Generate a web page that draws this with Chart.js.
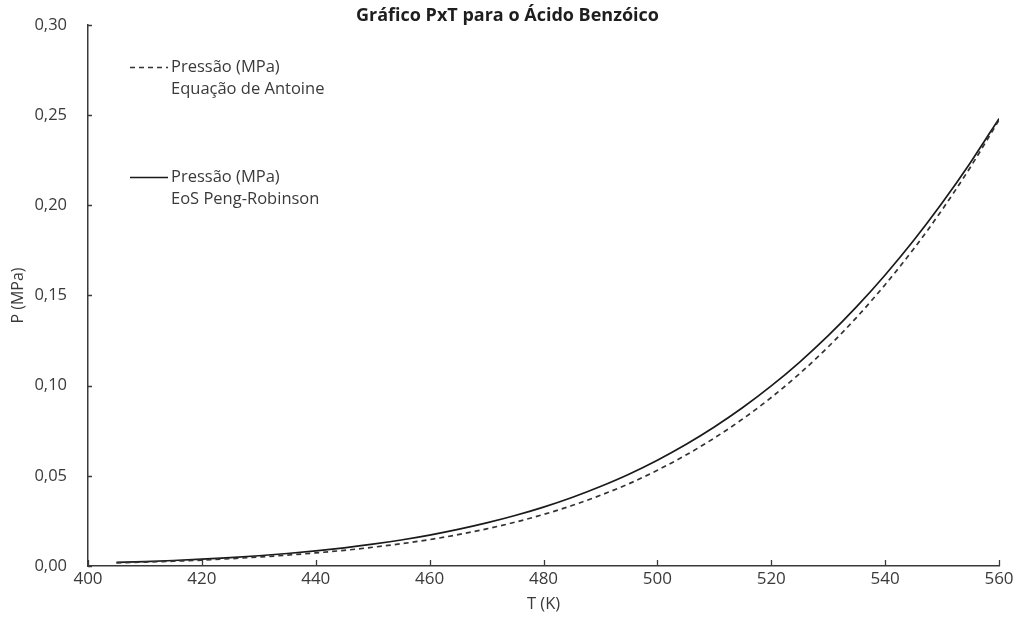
<!DOCTYPE html>
<html>
<head>
<meta charset="utf-8">
<script src="https://cdn.jsdelivr.net/npm/chart.js@4.4.1/dist/chart.umd.min.js"></script>
<style>
  html, body { margin: 0; padding: 0; background: #ffffff; }
  #wrap { width: 1015px; height: 629px; }
</style>
</head>
<body>
<div id="wrap"><canvas id="chart" width="1015" height="629"></canvas></div>
<script>
// Temperature grid (K)
const temperatures = [405, 410, 415, 420, 425, 430, 435, 440, 445, 450, 455, 460, 465, 470, 475, 480,
                      485, 490, 495, 500, 505, 510, 515, 520, 525, 530, 535, 540, 545, 550, 555, 560];

// Vapour pressure (MPa) from the Antoine equation
const pressureAntoine = [0.00177, 0.00216, 0.00266, 0.00328, 0.00405, 0.00499, 0.00602, 0.00728,
                         0.00869, 0.01039, 0.01233, 0.01464, 0.01738, 0.02058, 0.02429, 0.02858,
                         0.03352, 0.03920, 0.04562, 0.05310, 0.06149, 0.07099, 0.08157, 0.09345,
                         0.1067, 0.1215, 0.1379, 0.1560, 0.1758, 0.1975, 0.2213, 0.2473];

// Vapour pressure (MPa) from the Peng-Robinson equation of state
const pressurePengRobinson = [0.00197, 0.00246, 0.00306, 0.00378, 0.00465, 0.00569, 0.00692, 0.00838,
                              0.01009, 0.01209, 0.01443, 0.01714, 0.02028, 0.02388, 0.02799, 0.03268,
                              0.03802, 0.04410, 0.05092, 0.05870, 0.06739, 0.07709, 0.08787, 0.09985,
                              0.1131, 0.1277, 0.1438, 0.1614, 0.1805, 0.2013, 0.2238, 0.2481];

// Axis ticks
const xTickValues = [400, 420, 440, 460, 480, 500, 520, 540, 560];
const yTickLabels = ['0,00', '0,05', '0,10', '0,15', '0,20', '0,25', '0,30'];

// Legend text (two lines per series)
const labelAntoine = ['Pressão (MPa)', 'Equação de Antoine'];
const labelPengRobinson = ['Pressão (MPa)', 'EoS Peng-Robinson'];

const chartTitle = 'Gráfico PxT para o Ácido Benzóico';
const xTitle = 'T (K)';
const yTitle = 'P (MPa)';

const FONT = "'Open Sans', 'DejaVu Sans', sans-serif";
const TEXT_COLOR = '#3a3a3a';
const AXIS_COLOR = '#3a3a3a';

function toPoints(xs, ys) {
  return xs.map((x, i) => ({ x: x, y: ys[i] }));
}

// Title centred above the plot
const titlePlugin = {
  id: 'plotTitle',
  afterDraw(chart) {
    const ctx = chart.ctx;
    ctx.save();
    ctx.font = "bold 18px " + FONT;
    ctx.fillStyle = '#1e1e1e';
    ctx.textAlign = 'center';
    ctx.textBaseline = 'middle';
    ctx.fillText(chartTitle, chart.width / 2, 16);
    ctx.restore();
  }
};

// Short tick marks pointing into the plot area
const innerTicksPlugin = {
  id: 'innerTicks',
  afterDraw(chart) {
    const ctx = chart.ctx;
    const xs = chart.scales.x, ys = chart.scales.y;
    const area = chart.chartArea;
    ctx.save();
    ctx.strokeStyle = AXIS_COLOR;
    ctx.lineWidth = 1.3;
    ctx.beginPath();
    xTickValues.forEach(v => {
      const px = Math.round(xs.getPixelForValue(v)) + 0.5;
      ctx.moveTo(px, area.bottom);
      ctx.lineTo(px, area.bottom - 6);
    });
    ys.ticks.forEach(t => {
      const py = Math.round(ys.getPixelForValue(t.value)) + 0.5;
      ctx.moveTo(area.left, py);
      ctx.lineTo(area.left + 4, py);
    });
    ctx.stroke();
    ctx.restore();
  }
};

// Legend inside the plot, line sample followed by two text lines
const insideLegendPlugin = {
  id: 'insideLegend',
  afterDatasetsDraw(chart) {
    const ctx = chart.ctx;
    const rows = [67, 177];
    ctx.save();
    ctx.font = "16.5px " + FONT;
    ctx.fillStyle = TEXT_COLOR;
    ctx.textAlign = 'left';
    ctx.textBaseline = 'middle';
    chart.data.datasets.forEach((ds, i) => {
      const y = rows[i];
      ctx.save();
      ctx.strokeStyle = ds.borderColor;
      ctx.lineWidth = ds.borderWidth;
      ctx.setLineDash(ds.borderDash || []);
      ctx.beginPath();
      ctx.moveTo(130, y + 0.5);
      ctx.lineTo(168, y + 0.5);
      ctx.stroke();
      ctx.restore();
      ds.label.forEach((line, j) => {
        ctx.fillText(line, 171, y + j * 22);
      });
    });
    ctx.restore();
  }
};

const chart = new Chart(document.getElementById('chart'), {
  type: 'line',
  data: {
    datasets: [
      {
        label: labelAntoine,
        data: toPoints(temperatures, pressureAntoine),
        borderColor: '#333333',
        borderWidth: 1.7,
        borderDash: [5, 4],
        pointRadius: 0,
        fill: false,
        cubicInterpolationMode: 'monotone'
      },
      {
        label: labelPengRobinson,
        data: toPoints(temperatures, pressurePengRobinson),
        borderColor: '#1a1a1a',
        borderWidth: 1.7,
        pointRadius: 0,
        fill: false,
        cubicInterpolationMode: 'monotone'
      }
    ]
  },
  options: {
    responsive: false,
    devicePixelRatio: 1,
    animation: false,
    layout: { padding: { top: 25, right: 16, bottom: 0, left: 0 } },
    plugins: {
      legend: { display: false },
      title: { display: false },
      tooltip: { enabled: false }
    },
    scales: {
      x: {
        type: 'linear',
        min: 400,
        max: 560,
        afterBuildTicks(scale) {
          scale.ticks = xTickValues.map(v => ({ value: v }));
        },
        ticks: {
          color: TEXT_COLOR,
          font: { family: FONT, size: 17 },
          padding: 3,
          maxRotation: 0,
          callback: (v) => String(v)
        },
        grid: { display: false, drawTicks: false },
        border: { display: true, color: AXIS_COLOR, width: 1.5 },
        title: {
          display: true,
          text: xTitle,
          color: TEXT_COLOR,
          font: { family: FONT, size: 16.5 },
          padding: { top: 0, bottom: 15 }
        },
        afterFit(scale) {
          scale.height = 63;
          scale.paddingLeft = 0;
          scale.paddingRight = 0;
        }
      },
      y: {
        type: 'linear',
        min: 0,
        max: 0.3,
        afterBuildTicks(scale) {
          scale.ticks = yTickLabels.map((_, i) => ({ value: i * 0.05 }));
        },
        ticks: {
          color: TEXT_COLOR,
          font: { family: FONT, size: 16.5 },
          padding: 21,
          callback: (v, i) => yTickLabels[i]
        },
        grid: { display: false, drawTicks: false },
        border: { display: true, color: AXIS_COLOR, width: 1.5 },
        title: {
          display: true,
          text: yTitle,
          color: TEXT_COLOR,
          font: { family: FONT, size: 16 },
          padding: { top: 9, bottom: 0 }
        },
        afterFit(scale) {
          scale.width = 88;
          scale.paddingTop = 0;
          scale.paddingBottom = 0;
        }
      }
    }
  },
  plugins: [titlePlugin, innerTicksPlugin, insideLegendPlugin]
});
</script>
</body>
</html>
